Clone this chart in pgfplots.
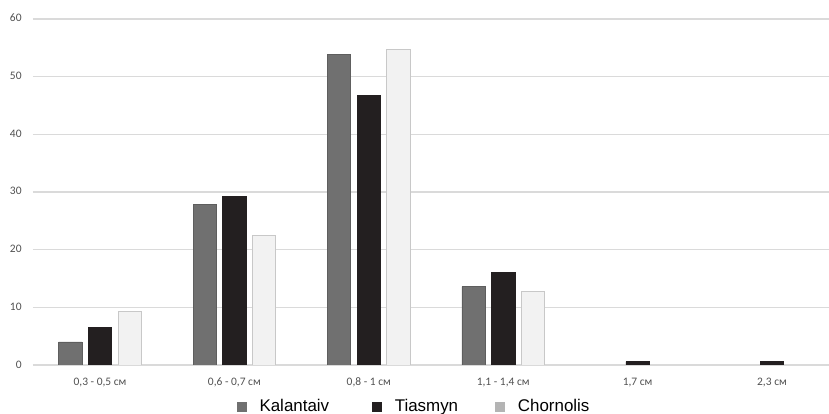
\documentclass[border=0pt]{standalone}
\usepackage{pgfplots}
\pgfplotsset{compat=1.18}
\usepackage{fontspec}
\setmainfont{Carlito}
\newfontfamily\arial{Liberation Sans}
\definecolor{kal}{HTML}{707070}
\definecolor{kalb}{HTML}{5E5E5E}
\definecolor{tia}{HTML}{231F20}
\definecolor{cho}{HTML}{F2F2F2}
\definecolor{chob}{HTML}{C8C8C8}
\definecolor{chol}{HTML}{B4B4B4}
\definecolor{gridc}{HTML}{DADADA}
\definecolor{tickc}{HTML}{505050}
\begin{document}
\begin{tikzpicture}
\path[use as bounding box] (0bp,0bp) rectangle (829bp,414bp);
\clip (0bp,0bp) rectangle (829bp,414bp);
\begin{axis}[
  at={(32.8bp,49bp)}, anchor=south west,
  x=134.4bp, y=5.7667bp,
  xmin=-0.5, xmax=5.5, ymin=0, ymax=60,
  ybar=6.4bp, bar width=23.3bp,
  xtick={0,1,2,3,4,5},
  xticklabels={{0,3 - 0,5 см},{0,6 - 0,7 см},{0,8 - 1 см},{1,1 - 1,4 см},{1,7 см},{2,3 см}},
  ytick={0,10,20,30,40,50,60},
  axis line style={draw=none},
  major tick length=0pt,
  ymajorgrids, grid style={gridc, line width=1.2bp},
  /pgf/number format/assume math mode=true,
  tick label style={font=\fontsize{11.5}{13}\selectfont, text=tickc, inner sep=0pt},
  yticklabel style={anchor=base east, xshift=-11bp, yshift=-3bp},
  xticklabel style={anchor=base, yshift=-20bp},
  legend style={at={(0.2529,-0.1199)}, anchor=west, draw=none, fill=none, inner sep=0pt,
    font=\arial\fontsize{17}{20}\selectfont,
    /tikz/every odd column/.append style={column sep=11bp},
    /tikz/column 2/.style={column sep=41bp},
    /tikz/column 4/.style={column sep=35bp}},
  legend columns=3,
  legend cell align=left,
]
\addplot[fill=kal, draw=kalb, line width=0.6bp,
  legend image code/.code={\fill[kal] (0bp,-4.5bp) rectangle (9bp,4.5bp);}]
  coordinates {(0,4.0) (1,27.9) (2,53.9) (3,13.6)};
\addlegendentry{Kalantaiv}
\addplot[fill=tia, draw=tia, line width=0.6bp,
  legend image code/.code={\fill[tia] (0bp,-4.5bp) rectangle (9bp,4.5bp);}]
  coordinates {(0,6.5) (1,29.2) (2,46.8) (3,16.1) (4,0.6) (5,0.6)};
\addlegendentry{Tiasmyn}
\addplot[fill=cho, draw=chob, line width=0.8bp,
  legend image code/.code={\fill[chol] (0bp,-4.5bp) rectangle (9bp,4.5bp);}]
  coordinates {(0,9.3) (1,22.5) (2,54.7) (3,12.8)};
\addlegendentry{Chornolis}
\end{axis}
\end{tikzpicture}
\end{document}
